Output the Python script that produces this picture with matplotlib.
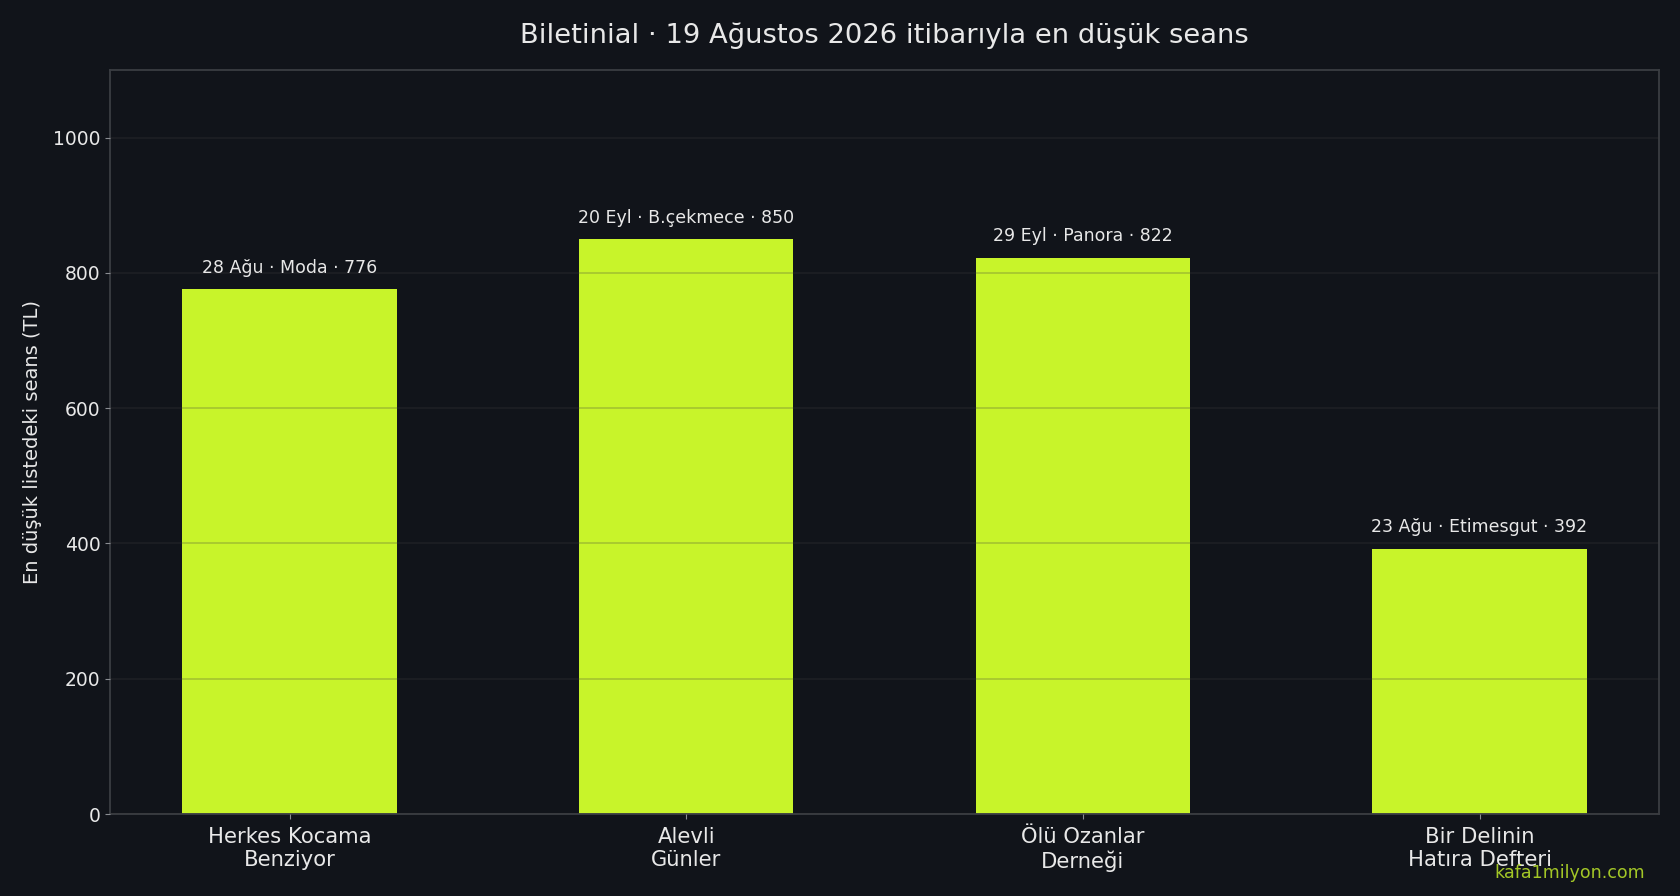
import matplotlib
matplotlib.use("Agg")
import matplotlib.pyplot as plt

films = ["Herkes Kocama\nBenziyor", "Alevli\nGünler", "Ölü Ozanlar\nDerneği", "Bir Delinin\nHatıra Defteri"]
prices = [776, 850, 822, 392]
notes = ["28 Ağu · Moda · 776", "20 Eyl · B.çekmece · 850", "29 Eyl · Panora · 822", "23 Ağu · Etimesgut · 392"]

bg = "#11141a"
lime = "#c8f42a"
txt = "#e8e8e8"

fig, ax = plt.subplots(figsize=(16.8, 8.96), dpi=100)
fig.patch.set_facecolor(bg)
ax.set_facecolor(bg)
fig.subplots_adjust(left=0.0655, right=0.9875, top=0.922, bottom=0.0915)

bars = ax.bar(range(len(films)), prices, width=0.54, color=lime, zorder=2)
for b, n in zip(bars, notes):
    ax.annotate(n, (b.get_x() + b.get_width() / 2, b.get_height()),
                xytext=(0, 9), textcoords="offset points",
                ha="center", va="bottom", color=txt, fontsize=12.5)

ax.set_xlim(-0.4525, len(films) - 1 + 0.4525)
ax.set_ylim(0, 1100)
ax.set_xticks(range(len(films)))
ax.set_xticklabels(films, fontsize=15.2, color=txt)
ax.tick_params(axis="x", pad=6)
ax.tick_params(axis="y", labelsize=13.5, colors=txt)
ax.tick_params(axis="both", color="#8a8d92")
ax.set_ylabel("En düşük listedeki seans (TL)", fontsize=14, color=txt, labelpad=8)
ax.set_title("Biletinial · 19 Ağustos 2026 itibarıyla en düşük seans", fontsize=19.7, color=txt, pad=19)

ax.yaxis.grid(True, color="#404040", alpha=0.25, linewidth=1.3, zorder=3)
ax.set_axisbelow(False)
for s in ax.spines.values():
    s.set_color("#3a3d42")
    s.set_linewidth(1.3)

fig.text(0.979, 0.016, "kafa1milyon.com", ha="right", va="bottom", color=lime, alpha=0.8, fontsize=12.6)

plt.savefig("out.png", facecolor=bg)
